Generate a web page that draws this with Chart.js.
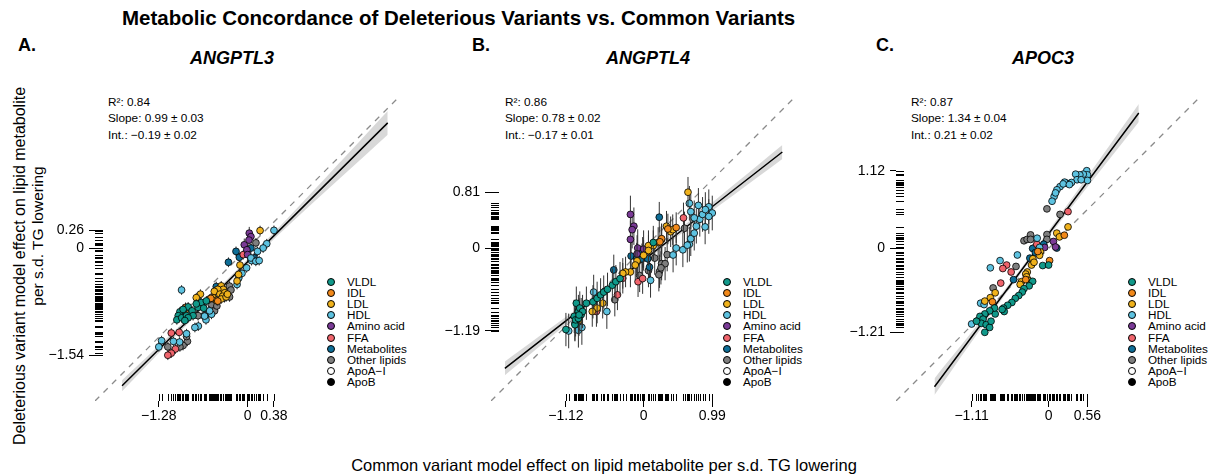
<!DOCTYPE html>
<html>
<head>
<meta charset="utf-8">
<script src="https://cdn.jsdelivr.net/npm/chart.js@4.4.1/dist/chart.umd.min.js"></script>
<style>
  html, body { margin:0; padding:0; background:#fff; }
  body { width:1215px; height:475px; position:relative; overflow:hidden;
         font-family:'Liberation Sans', Arial, Helvetica, sans-serif; color:#000; }
  canvas { position:absolute; }
  .txt { position:absolute; white-space:nowrap; line-height:1; }
  .rot { transform:translate(-50%,-50%) rotate(-90deg); }
  .ctr { transform:translate(-50%,-50%); }
  .lg-row { position:absolute; white-space:nowrap; font-size:11.7px; line-height:1; transform:translateY(-50%); }
  .lg-dot { position:absolute; width:6px; height:6px; border:1px solid #000; border-radius:50%; transform:translate(-50%,-50%); }
</style>
</head>
<body>
<div class="txt" style="left:122px;top:8px;font-weight:bold;font-size:20.5px;">Metabolic Concordance of Deleterious Variants vs. Common Variants</div>
<div class="txt ctr" style="left:604px;top:465px;font-size:16.5px;">Common variant model effect on lipid metabolite per s.d. TG lowering</div>
<div class="txt rot" style="left:20px;top:266px;font-size:16px;">Deleterious variant model effect on lipid metabolite</div>
<div class="txt rot" style="left:38px;top:236px;font-size:15.5px;">per s.d. TG lowering</div>
<div id="wrap"></div>

<script>
// ── Groups ────────────────────────────────────────────────
const groups      = ['VLDL','IDL','LDL','HDL','Amino acid','FFA','Metabolites','Other lipids','ApoA\u2212I','ApoB'];
const groupColors = ['#10998A','#F2891A','#F0B21C','#5DC2E0','#7A3A96','#F0646C','#0E6E97','#7F7F7F','#FFFFFF','#000000'];

// ── Panel A: ANGPTL3 ──────────────────────────────────────
const a_x = [0.38,0.276,0.224,0.143,0.057,-0.014,-0.081,-0.129,-0.152,-0.952,-0.333,-0.52,-0.60,-0.71,-0.76,-0.88,-0.98,-1.07,-1.24,-1.28,0.048,0.119,0.167,-0.548,-0.62,
  0.024,0.048,-0.048,-0.01,0,0.02,
  -0.167,-0.276,-0.119,0.048,-0.452,0.095,
  0.18,-0.11,-0.13,-0.152,-0.38,-0.35,-0.43,-0.48,-0.40,-0.33,-0.36,-0.50,-0.55,-0.45,-0.38,-0.31,-0.29,-0.68,-0.74,-0.90,
  -0.43,-0.53,-0.895,
  -0.857,-0.80,-0.976,-1.0,-1.02,-0.95,-0.88,-0.786,-0.857,-0.714,-0.667,-0.595,-0.633,-0.905,-0.74,-0.93,
  -0.262,-0.31,-0.524,-0.562,-0.629,-0.476,-0.443,-0.26,-0.867,-0.93,-0.976,-1.15,-0.88,-0.714,0.12,-0.24,
  -1.10,-0.986,-1.04,-1.10,-1.15,-0.062];
const a_y = [0.26,0.067,0.005,-0.043,-0.176,-0.28,-0.36,-0.43,-0.52,-0.60,-0.71,-0.95,-1.03,-1.12,-1.14,-1.23,-1.35,-1.34,-1.33,-1.42,-0.138,-0.186,-0.176,-0.90,-0.976,
  0.22,0.17,0.052,-0.02,-0.09,0.12,
  -0.043,-0.2,-0.129,0.005,-0.55,-0.138,
  0.257,-0.24,-0.376,-0.47,-0.54,-0.59,-0.59,-0.62,-0.66,-0.64,-0.69,-0.71,-0.73,-0.75,-0.73,-0.70,-0.66,-0.66,-0.71,-0.90,
  -0.76,-0.72,-0.85,
  -0.843,-0.90,-0.914,-0.97,-1.03,-1.0,-0.97,-0.97,-1.0,-0.85,-0.78,-0.757,-0.862,-1.04,-0.80,-0.88,
  -0.543,-0.66,-0.814,-0.924,-0.97,-0.90,-0.83,-0.70,-1.34,-1.40,-1.42,-1.42,-1.27,-0.97,0.08,-0.60,
  -1.22,-1.21,-1.45,-1.51,-1.54,-0.09];
const a_g = [3,3,3,3,3,3,3,3,3,3,3,3,3,3,3,3,3,3,3,3,3,3,3,3,3,
  4,4,4,4,4,4,
  6,6,6,6,6,6,
  2,2,2,2,2,2,2,2,2,2,2,2,2,2,2,2,2,2,2,2,
  1,1,1,
  0,0,0,0,0,0,0,0,0,0,0,0,0,0,0,0,
  7,7,7,7,7,7,7,7,7,7,7,7,7,7,7,7,
  5,5,5,5,5,5];
const a_err   = [0.07,0.07,0.07,0.07,0.09,0.07,0.07,0.07,0,0];
const a_xTicks = [-1.28, 0, 0.38];
const a_yTicks = [-1.54, 0, 0.26];
const a_fitX  = [-1.81, -1.0, -0.45, 0.6, 2.02];
const a_fitY  = [-1.98, -1.18, -0.64, 0.40, 1.81];
const a_band  = [0.08, 0.045, 0.035, 0.06, 0.17];
const a_stats = ['R\u00b2: 0.84', 'Slope: 0.99 \u00b1 0.03', 'Int.: \u22120.19 \u00b1 0.02'];

// ── Panel B: ANGPTL4 ──────────────────────────────────────
const b_x = [-1.12,-0.99,-1.0,-0.97,-0.94,-0.92,-0.90,-0.88,-0.825,-0.73,-0.67,-0.62,-0.575,-0.52,-0.45,-0.40,-0.34,-0.98,-0.94,0.14,-0.93,
  -1.08,-0.94,-0.89,-0.99,-0.72,-0.53,0.10,0.47,0.425,0.566,0.66,0.68,0.73,0.76,0.887,0.81,0.85,0.94,0.99,0.66,0.68,0.73,0.79,0.89,0.94,0.63,
  0.64,0.33,0.39,0.42,0.26,0.21,0.14,0.07,0.07,0,-0.094,-0.12,-0.19,-0.26,-0.30,-0.59,-0.67,-0.74,-0.93,
  0.47,0.35,0.26,0.235,
  -0.19,-0.14,-0.165,-0.19,-0.085,-0.094,0,
  0.226,-0.18,-0.10,-0.014,-0.024,0.06,0.085,-0.43,
  0.575,-0.30,-0.08,-0.014,-0.377,-0.68,
  0.59,0.34,0.26,0.31,0.23,0.22,0.25,-0.057,0.07,-0.415,0.16];
const b_y = [-1.17,-1.10,-0.98,-0.79,-0.91,-0.86,-0.955,-0.91,-0.79,-0.77,-0.72,-0.67,-0.63,-0.59,-0.53,-0.48,-0.435,-1.03,-1.01,0.085,-0.96,
  -1.19,-1.18,-1.14,-1.08,-0.63,-0.91,-0.46,0.005,-0.095,-0.02,0.06,0.14,0.22,0.32,0.31,0.42,0.49,0.60,0.51,0.65,0.53,0.44,0.62,0.56,0.46,0.047,
  0.81,0.32,0.24,0.27,0.13,0.085,0.04,0.04,-0.03,-0.10,-0.18,-0.24,-0.34,-0.34,-0.36,-0.79,-0.86,-0.91,-1.04,
  0.30,0.28,0.14,0.095,
  0.49,0.32,0.27,0.13,0.005,-0.08,-0.01,
  0.45,-0.11,-0.14,-0.057,-0.15,-0.15,-0.27,-0.31,
  0.44,-0.43,-0.48,-0.435,-0.67,-0.91,
  0.29,-0.09,-0.22,-0.22,-0.33,-0.38,-0.28,-0.39,-0.32,-0.74,-0.14];
const b_g = [0,0,0,0,0,0,0,0,0,0,0,0,0,0,0,0,0,0,0,0,0,
  3,3,3,3,3,3,3,3,3,3,3,3,3,3,3,3,3,3,3,3,3,3,3,3,3,3,
  2,2,2,2,2,2,2,2,2,2,2,2,2,2,2,2,2,2,2,
  1,1,1,1,
  4,4,4,4,4,4,4,
  6,6,6,6,6,6,6,6,
  5,5,5,5,5,5,
  7,7,7,7,7,7,7,7,7,7,7];
const b_err   = [0.24,0.22,0.22,0.25,0.27,0.22,0.22,0.24,0,0];
const b_xTicks = [-1.12, 0, 0.99];
const b_yTicks = [-1.19, 0, 0.81];
const b_fitX  = [-2.0, -1.0, -0.3, 0.6, 2.0];
const b_fitY  = [-1.73, -0.95, -0.404, 0.298, 1.39];
const b_band  = [0.10, 0.05, 0.03, 0.045, 0.10];
const b_stats = ['R\u00b2: 0.86', 'Slope: 0.78 \u00b1 0.02', 'Int.: \u22120.17 \u00b1 0.01'];

// ── Panel C: APOC3 ────────────────────────────────────────
const c_x = [0.55,0.56,0.56,0.50,0.45,0.39,0.41,0.33,0.26,0.23,0.165,0.12,0.08,0.05,0.10,0.21,0.30,0.47,-0.165,-0.13,-0.45,-0.70,-0.84,-0.98,-0.93,-1.11,
  -0.024,0.165,-0.355,-0.31,-0.26,-0.26,-0.024,-0.024,-0.21,-0.47,-0.80,-0.14,
  0.28,-0.17,-0.605,-0.66,-0.54,-0.69,
  -0.057,0.07,0.10,
  0.118,-0.27,-0.23,-0.506,-0.07,-0.19,
  0.28,0.118,0.156,-0.118,-0.13,-0.227,-0.246,-0.21,-0.307,-0.33,-0.317,-0.29,-0.39,-0.41,-0.77,-0.84,-0.92,-1.02,
  0.227,0.014,-0.156,-0.81,-0.33,
  -0.085,0,-0.23,-0.28,-0.355,-0.38,-0.43,-0.48,-0.53,-0.59,-0.65,-0.64,-0.67,-0.77,-0.78,-0.85,-0.92,-0.99,-0.945,-0.97,-0.90,-0.85,-0.92,-1.04,-0.83];
const c_y = [1.12,1.06,0.98,1.07,1.06,1.07,0.99,0.95,0.94,0.955,0.89,0.845,0.75,0.68,0.80,0.93,0.92,0.99,0.147,0.014,-0.095,-0.176,-0.28,-0.79,-0.81,-1.09,
  0.57,0.49,0.11,0.13,0.195,0.13,0.20,0.13,0.005,-0.26,-0.57,-0.07,
  0.53,0.06,-0.24,-0.29,-0.34,-0.50,
  0.014,0.10,0.02,
  0.005,-0.14,0,-0.45,0.06,-0.06,
  0.31,0.22,0.166,-0.05,-0.10,-0.15,-0.24,-0.20,-0.34,-0.37,-0.41,-0.46,-0.48,-0.52,-0.64,-0.71,-0.76,-1.04,
  0.19,-0.176,-0.045,-0.77,-0.45,
  -0.247,-0.24,-0.475,-0.54,-0.58,-0.63,-0.68,-0.72,-0.78,-0.82,-0.86,-0.91,-0.88,-0.945,-0.86,-0.90,-0.945,-0.98,-1.02,-1.08,-1.10,-1.14,-1.21,-1.05,-1.05];
const c_g = [3,3,3,3,3,3,3,3,3,3,3,3,3,3,3,3,3,3,3,3,3,3,3,3,3,3,
  7,7,7,7,7,7,7,7,7,7,7,7,
  5,5,5,5,5,5,
  4,4,4,
  6,6,6,6,6,6,
  2,2,2,2,2,2,2,2,2,2,2,2,2,2,2,2,2,2,
  1,1,1,1,1,
  0,0,0,0,0,0,0,0,0,0,0,0,0,0,0,0,0,0,0,0,0,0,0,0,0];
const c_err   = [0,0,0,0,0,0,0,0,0,0];
const c_xTicks = [-1.11, 0, 0.56];
const c_yTicks = [-1.21, 0, 1.12];
const c_fitX  = [-1.645, -1.0, -0.4, 0.3, 1.30];
const c_fitY  = [-1.994, -1.13, -0.326, 0.612, 1.952];
const c_band  = [0.12, 0.06, 0.035, 0.06, 0.13];
const c_stats = ['R\u00b2: 0.87', 'Slope: 1.34 \u00b1 0.04', 'Int.: 0.21 \u00b1 0.02'];

const LIM = 2.2;

// ── Panels (placement) ────────────────────────────────────
const panels = [
  { letter:'A.', gene:'ANGPTL3', x:a_x, y:a_y, g:a_g, err:a_err, xt:a_xTicks, yt:a_yTicks, fx:a_fitX, fy:a_fitY, band:a_band, stats:a_stats,
    left:95, top:91, letterX:18, geneX:232, statX:108, legX:331 },
  { letter:'B.', gene:'ANGPTL4', x:b_x, y:b_y, g:b_g, err:b_err, xt:b_xTicks, yt:b_yTicks, fx:b_fitX, fy:b_fitY, band:b_band, stats:b_stats,
    left:491, top:91, letterX:472, geneX:648, statX:505, legX:727 },
  { letter:'C.', gene:'APOC3', x:c_x, y:c_y, g:c_g, err:c_err, xt:c_xTicks, yt:c_yTicks, fx:c_fitX, fy:c_fitY, band:c_band, stats:c_stats,
    left:896, top:91, letterX:876, geneX:1043, statX:911, legX:1132 }
];

const SIZE = 310, YW = 50, XH = 30;

Chart.defaults.font.family = "'Liberation Sans', Arial, sans-serif";

function fmtTick(v) {
  if (v === 0) return '0';
  return (v < 0 ? '\u2212' : '') + Math.abs(v).toFixed(2);
}

// rug along both axes + vertical error bars
const rugPlugin = {
  id: 'rug',
  beforeDatasetDraw(chart, args) {
    const ds = chart.data.datasets[args.index];
    if (!ds.err) return;
    const { ctx } = chart, xs = chart.scales.x, ys = chart.scales.y;
    ctx.save();
    ctx.strokeStyle = '#333';
    ctx.lineWidth = 1;
    ctx.beginPath();
    ds.data.forEach(p => {
      const px = xs.getPixelForValue(p.x);
      ctx.moveTo(px, ys.getPixelForValue(p.y - ds.err));
      ctx.lineTo(px, ys.getPixelForValue(p.y + ds.err));
    });
    ctx.stroke();
    ctx.restore();
  },
  afterDraw(chart) {
    const { ctx, chartArea: a } = chart, xs = chart.scales.x, ys = chart.scales.y;
    ctx.save();
    ctx.strokeStyle = '#000';
    ctx.lineWidth = 1;
    ctx.beginPath();
    chart.data.datasets.forEach(ds => {
      if (!ds.isPoints) return;
      ds.data.forEach(p => {
        const px = Math.round(xs.getPixelForValue(p.x)) + 0.5;
        ctx.moveTo(px, a.bottom); ctx.lineTo(px, a.bottom - 7);
        const py = Math.round(ys.getPixelForValue(p.y)) + 0.5;
        ctx.moveTo(a.left, py); ctx.lineTo(a.left + 8, py);
      });
    });
    ctx.stroke();
    ctx.restore();
  }
};

function axis(ticks, isX) {
  return {
    type: 'linear', min: -LIM, max: LIM,
    afterBuildTicks: s => { s.ticks = ticks.map(v => ({ value: v })); },
    afterFit: s => {
      if (isX) s.height = XH; else s.width = YW;
      s.paddingTop = 0; s.paddingBottom = 0; s.paddingLeft = 0; s.paddingRight = 0;
    },
    grid: { drawOnChartArea: false, drawTicks: true, tickLength: 6, color: '#000', lineWidth: 1 },
    border: { display: false },
    ticks: { font: { size: 14 }, color: '#000', padding: isX ? 1 : 5, autoSkip: false, maxRotation: 0,
             callback: v => fmtTick(v) }
  };
}

const wrap = document.getElementById('wrap');

panels.forEach(p => {
  // labels
  wrap.insertAdjacentHTML('beforeend',
    `<div class="txt" style="left:${p.letterX}px;top:36px;font-weight:bold;font-size:18px;">${p.letter}</div>` +
    `<div class="txt ctr" style="left:${p.geneX}px;top:58px;font-weight:bold;font-style:italic;font-size:18px;">${p.gene}</div>`);
  p.stats.forEach((s, i) => {
    wrap.insertAdjacentHTML('beforeend',
      `<div class="txt" style="left:${p.statX}px;top:${102.5 + i * 16.7}px;font-size:11.8px;transform:translateY(-50%);">${s}</div>`);
  });
  groups.forEach((name, i) => {
    const y = 282.3 + i * 11.04;
    wrap.insertAdjacentHTML('beforeend',
      `<div class="lg-dot" style="left:${p.legX}px;top:${y}px;background:${groupColors[i]};"></div>` +
      `<div class="lg-row" style="left:${p.legX + 16}px;top:${y}px;">${name}</div>`);
  });

  // canvas
  const cv = document.createElement('canvas');
  cv.width = YW + SIZE; cv.height = SIZE + XH;
  cv.style.left = (p.left - YW) + 'px';
  cv.style.top = p.top + 'px';
  wrap.appendChild(cv);

  const datasets = groups.map((name, gi) => ({
    label: name,
    isPoints: true,
    err: p.err[gi],
    data: p.x.map((x, k) => ({ x, y: p.y[k], g: p.g[k] })).filter(d => d.g === gi),
    backgroundColor: groupColors[gi],
    borderColor: '#000',
    borderWidth: 0.8,
    pointRadius: 3.4
  }));
  datasets.push({
    type: 'line', label: 'fit',
    data: p.fx.map((x, k) => ({ x, y: p.fy[k] })),
    borderColor: '#000', borderWidth: 1.5, pointRadius: 0, fill: false
  });
  datasets.push({
    type: 'line', label: 'identity',
    data: [{ x: -LIM, y: -LIM }, { x: LIM, y: LIM }],
    borderColor: '#8a8a8a', borderWidth: 1.3, borderDash: [6, 6], pointRadius: 0, fill: false
  });
  datasets.push({
    type: 'line', label: 'ciHi',
    data: p.fx.map((x, k) => ({ x, y: p.fy[k] + p.band[k] })),
    borderWidth: 0, pointRadius: 0, fill: '+1', backgroundColor: 'rgba(190,190,190,0.6)', tension: 0.3
  });
  datasets.push({
    type: 'line', label: 'ciLo',
    data: p.fx.map((x, k) => ({ x, y: p.fy[k] - p.band[k] })),
    borderWidth: 0, pointRadius: 0, fill: false, tension: 0.3
  });

  new Chart(cv, {
    type: 'scatter',
    data: { datasets },
    options: {
      responsive: false, animation: false,
      layout: { padding: 0 },
      plugins: { legend: { display: false }, tooltip: { enabled: false } },
      scales: { x: axis(p.xt, true), y: axis(p.yt, false) }
    },
    plugins: [rugPlugin]
  });
});
</script>
</body>
</html>
